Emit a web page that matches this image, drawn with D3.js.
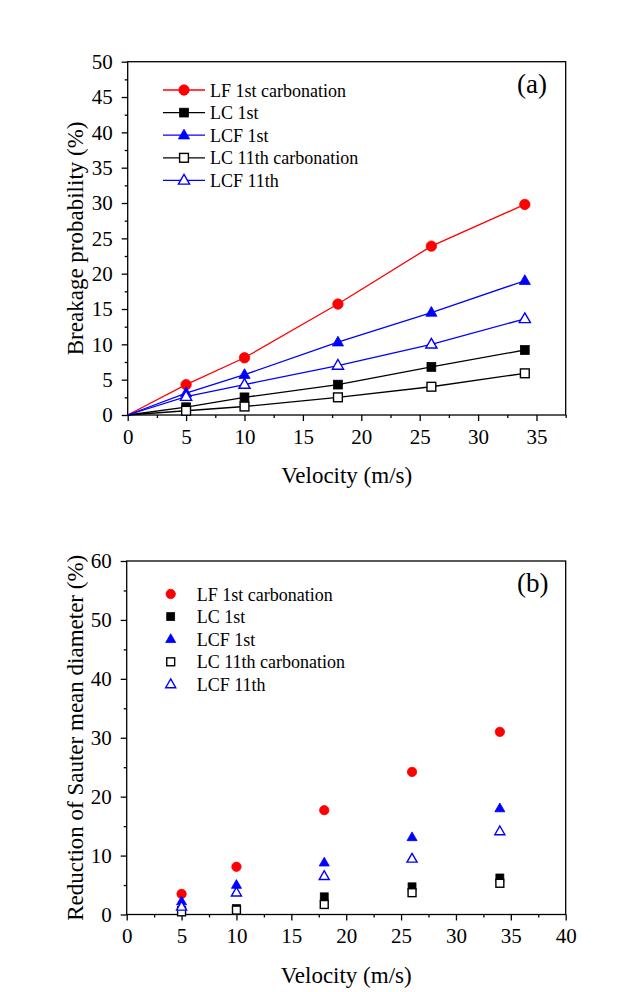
<!DOCTYPE html>
<html>
<head>
<meta charset="utf-8">
<script src="https://cdn.jsdelivr.net/npm/d3@7"></script>
<style>
  body { margin: 0; background: #fff; }
  text { font-family: "Liberation Serif", "Times New Roman", serif; fill: #000; }
</style>
</head>
<body>
<script>
// panel (a): breakage probability vs velocity
var velA = [0, 5, 10, 18, 26, 34];
var lf1A = [0, 4.3, 8.1, 15.7, 23.9, 29.8];
var lc1A = [0, 1.1, 2.5, 4.3, 6.8, 9.2];
var lcf1A = [0, 3.1, 5.7, 10.3, 14.5, 19.0];
var lc11A = [0, 0.6, 1.2, 2.5, 4.0, 5.9];
var lcf11A = [0, 2.6, 4.3, 7.0, 10.0, 13.6];

// panel (b): reduction of Sauter mean diameter vs velocity
var velB = [5, 10, 18, 26, 34];
var lf1B = [3.5, 8.1, 17.7, 24.2, 31.0];
var lc1B = [0.7, 1.0, 3.0, 4.7, 6.2];
var lcf1B = [2.2, 5.0, 8.8, 13.1, 18.0];
var lc11B = [0.45, 0.75, 1.7, 3.7, 5.3];
var lcf11B = [1.3, 3.7, 6.5, 9.45, 14.1];

// legend names and ticks
var namesA = ["LF 1st carbonation", "LC 1st", "LCF 1st", "LC 11th carbonation", "LCF 11th"];
var namesB = ["LF 1st carbonation", "LC 1st", "LCF 1st", "LC 11th carbonation", "LCF 11th"];
var xTicksA = [0, 5, 10, 15, 20, 25, 30, 35];
var xTicksB = [0, 5, 10, 15, 20, 25, 30, 35, 40];
var yTicksA = [0, 5, 10, 15, 20, 25, 30, 35, 40, 45, 50];
var yTicksB = [0, 10, 20, 30, 40, 50, 60];

// look of each series (same in both panels)
var styles = [
    {color: "#ff0000", shape: "circle", fill: true},
    {color: "#000000", shape: "square", fill: true},
    {color: "#0000ff", shape: "triangle", fill: true},
    {color: "#000000", shape: "square", fill: false},
    {color: "#0000ff", shape: "triangle", fill: false}
];

var svg = d3.select("body").append("svg")
    .attr("width", 644)
    .attr("height", 992);

//draws one marker
function marker(g, st, cx, cy, size) {
    var m;
    if (st.shape == "circle") {
        m = g.append("circle").attr("cx", cx).attr("cy", cy).attr("r", size * 0.52);
    } else if (st.shape == "square") {
        var s = size * 0.88;
        m = g.append("rect").attr("x", cx - s / 2).attr("y", cy - s / 2)
            .attr("width", s).attr("height", s);
    } else {
        var t = size * 1.12;
        var h = t * 0.87;
        m = g.append("path").attr("d", "M" + cx + "," + (cy - h * 0.62) +
            "L" + (cx + t / 2) + "," + (cy + h * 0.38) +
            "L" + (cx - t / 2) + "," + (cy + h * 0.38) + "Z");
    }
    if (st.fill) {
        m.attr("fill", st.color).attr("stroke", st.color).attr("stroke-width", 0.8);
    } else {
        m.attr("fill", "#fff").attr("stroke", st.color).attr("stroke-width", 1.4);
    }
}

//draws a panel
function drawPanel(p) {
    var x = d3.scaleLinear().domain(p.xDomain).range([p.left, p.right]);
    var y = d3.scaleLinear().domain(p.yDomain).range([p.bottom, p.top]);
    var g = svg.append("g");

    // minor ticks halfway between majors
    var xMinor = [];
    for (var i = 0; i < p.xTicks.length - 1; i++) xMinor.push((p.xTicks[i] + p.xTicks[i + 1]) / 2);
    if (p.xTicks[p.xTicks.length - 1] + 2.5 <= p.xDomain[1]) xMinor.push(p.xTicks[p.xTicks.length - 1] + 2.5);
    var yMinor = [];
    for (var j = 0; j < p.yTicks.length - 1; j++) yMinor.push((p.yTicks[j] + p.yTicks[j + 1]) / 2);

    var xa = g.append("g").attr("transform", "translate(0," + p.bottom + ")")
        .call(d3.axisBottom(x).tickValues(p.xTicks).tickSize(6).tickPadding(8));
    xa.selectAll("text").attr("font-size", 21).attr("font-family", "Liberation Serif");
    var xm = g.append("g").attr("transform", "translate(0," + p.bottom + ")")
        .call(d3.axisBottom(x).tickValues(xMinor).tickSize(3).tickFormat(""));
    var ya = g.append("g").attr("transform", "translate(" + p.left + ",0)")
        .call(d3.axisLeft(y).tickValues(p.yTicks).tickSize(6).tickPadding(9));
    ya.selectAll("text").attr("font-size", 21).attr("font-family", "Liberation Serif");
    var ym = g.append("g").attr("transform", "translate(" + p.left + ",0)")
        .call(d3.axisLeft(y).tickValues(yMinor).tickSize(3).tickFormat(""));
    [xa, xm, ya, ym].forEach(function(a) {
        a.select(".domain").remove();
        a.selectAll("line").attr("stroke", "#000").attr("stroke-width", 1.3);
    });

    // frame
    g.append("rect")
        .attr("x", p.left).attr("y", p.top)
        .attr("width", p.right - p.left).attr("height", p.bottom - p.top)
        .attr("fill", "none").attr("stroke", "#000").attr("stroke-width", 1.3);

    // lines
    if (p.lines) {
        p.series.forEach(function(s, k) {
            var line = d3.line()
                .x(function(d, i) { return x(p.vel[i]); })
                .y(function(d) { return y(d); });
            g.append("path").datum(s)
                .attr("d", line)
                .attr("fill", "none")
                .attr("stroke", styles[k].color)
                .attr("stroke-width", 1.3);
        });
    }
    // markers
    p.series.forEach(function(s, k) {
        s.forEach(function(d, i) {
            if (p.vel[i] == 0) return;
            marker(g, styles[k], x(p.vel[i]), y(d), p.msize);
        });
    });

    // legend
    p.names.forEach(function(n, k) {
        var ly = p.legY + k * 22.6;
        if (p.lines) {
            g.append("line").attr("x1", p.legX - 21).attr("x2", p.legX + 21)
                .attr("y1", ly).attr("y2", ly)
                .attr("stroke", styles[k].color).attr("stroke-width", 1.3);
        }
        marker(g, styles[k], p.legX, ly, p.msize);
        g.append("text").attr("x", p.legText).attr("y", ly + 6.5)
            .attr("font-size", 18).text(n);
    });

    // panel tag
    g.append("text").attr("x", 517).attr("y", p.tagY)
        .attr("font-size", 27).text(p.tag);

    // axis titles
    g.append("text").attr("x", (p.left + p.right) / 2).attr("y", p.bottom + 68)
        .attr("text-anchor", "middle").attr("font-size", 23).text("Velocity (m/s)");
    g.append("text")
        .attr("transform", "translate(83," + (p.top + p.bottom) / 2 + ") rotate(-90)")
        .attr("text-anchor", "middle").attr("font-size", 23).text(p.yLabel);
}

drawPanel({
    left: 127.7, right: 565.7, top: 61.7, bottom: 415,
    xDomain: [0, 37.5], yDomain: [0, 50],
    xTicks: xTicksA, yTicks: yTicksA,
    vel: velA, series: [lf1A, lc1A, lcf1A, lc11A, lcf11A],
    names: namesA, lines: true, msize: 10,
    legX: 184, legText: 210, legY: 90,
    tag: "(a)", tagY: 93,
    yLabel: "Breakage probability (%)"
});

drawPanel({
    left: 126.7, right: 565.7, top: 561, bottom: 914.5,
    xDomain: [0, 40], yDomain: [0, 60],
    xTicks: xTicksB, yTicks: yTicksB,
    vel: velB, series: [lf1B, lc1B, lcf1B, lc11B, lcf11B],
    names: namesB, lines: false, msize: 9,
    legX: 170.7, legText: 196.7, legY: 594,
    tag: "(b)", tagY: 592,
    yLabel: "Reduction of Sauter mean diameter (%)"
});
</script>
</body>
</html>
